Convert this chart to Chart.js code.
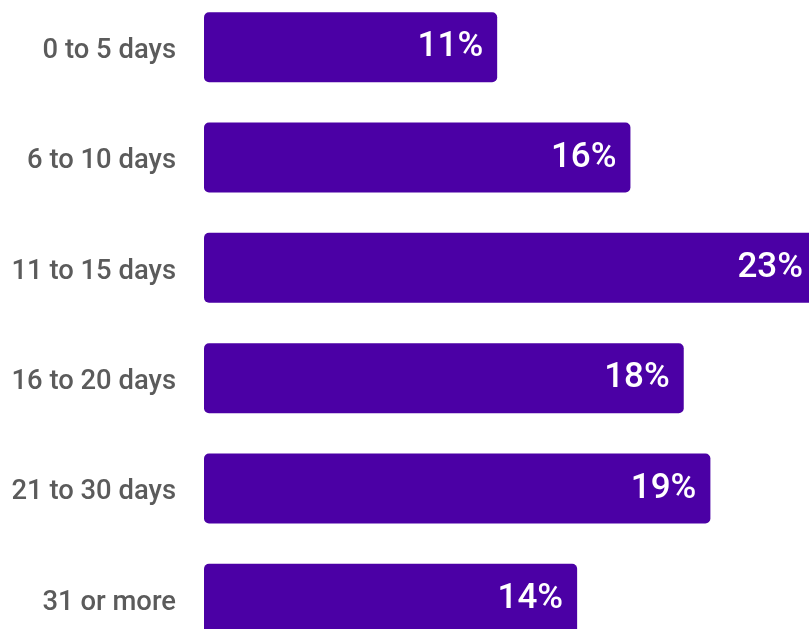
<!DOCTYPE html>
<html>
<head>
<meta charset="utf-8">
<script src="https://cdn.jsdelivr.net/npm/chart.js@4/dist/chart.umd.min.js"></script>
<style>
  html, body { margin: 0; padding: 0; background: #ffffff; overflow: hidden; }
  body { width: 809px; height: 629px; position: relative; }
  #wrap { position: absolute; left: 0; top: -8px; width: 817px; height: 662px; }
</style>
</head>
<body>
<div id="wrap"><canvas id="stayChart"></canvas></div>
<script>
// Length of stay buckets and share of stays (%)
const categories = ['0 to 5 days', '6 to 10 days', '11 to 15 days', '16 to 20 days', '21 to 30 days', '31 or more'];
const shares = [11, 16, 23, 18, 19, 14];

const BAR_COLOR = '#4b00a5';
const LABEL_COLOR = '#5b5b5b';

// Writes the percentage inside the right end of each bar
const valueLabels = {
  id: 'valueLabels',
  afterDatasetsDraw(chart) {
    const { ctx } = chart;
    const meta = chart.getDatasetMeta(0);
    ctx.save();
    ctx.fillStyle = '#ffffff';
    ctx.font = "500 35px Roboto, sans-serif";
    ctx.textAlign = 'right';
    ctx.textBaseline = 'alphabetic';
    meta.data.forEach((bar, i) => {
      ctx.fillText(shares[i] + '%', bar.x - 14, bar.y + 9);
    });
    ctx.restore();
  },
};

new Chart(document.getElementById('stayChart'), {
  type: 'bar',
  data: {
    labels: categories,
    datasets: [{
      data: shares,
      backgroundColor: BAR_COLOR,
      borderRadius: 5,
      borderSkipped: false,
      categoryPercentage: 1,
      barPercentage: 0.634,
    }],
  },
  options: {
    indexAxis: 'y',
    responsive: true,
    maintainAspectRatio: false,
    animation: false,
    layout: { padding: 0 },
    plugins: {
      legend: { display: false },
      tooltip: { enabled: false },
    },
    scales: {
      x: {
        display: false,
        min: 0,
        max: 23,
      },
      y: {
        grid: { display: false, drawTicks: false },
        border: { display: false },
        ticks: {
          color: LABEL_COLOR,
          padding: 28,
          labelOffset: 4,
          font: { family: 'Roboto', size: 27.4, weight: '500' },
        },
        afterFit(scale) {
          // fixed label column, and no extra room above/below the bars
          scale.width = 204;
          scale.paddingTop = 0;
          scale.paddingBottom = 0;
        },
      },
    },
  },
  plugins: [valueLabels],
});
</script>
</body>
</html>
